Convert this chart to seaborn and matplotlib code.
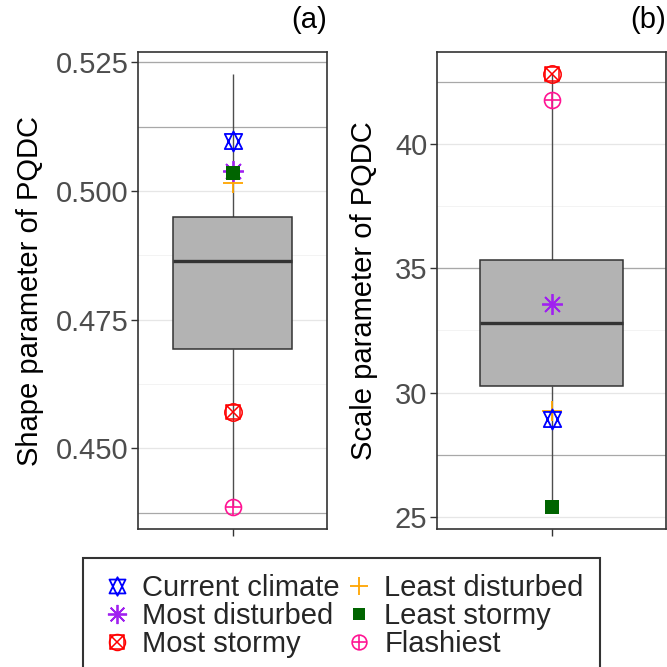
import numpy as np
import matplotlib
matplotlib.use("Agg")
import matplotlib.pyplot as plt
from matplotlib.path import Path
from matplotlib.lines import Line2D
from matplotlib.legend_handler import HandlerTuple
from matplotlib.ticker import MultipleLocator, FixedLocator, FormatStrFormatter
import seaborn as sns

# ---------------- data ----------------
# box statistics: [min, Q1, median, Q3, max]
shape_box = [0.4385, 0.4693, 0.4864, 0.4950, 0.5228]
scale_box = [25.39, 30.25, 32.80, 35.32, 42.82]

scenarios = ["Current climate", "Most disturbed", "Most stormy",
             "Least disturbed", "Least stormy", "Flashiest"]
shape_vals = [0.5098, 0.5038, 0.4570, 0.5016, 0.5034, 0.4385]
scale_vals = [28.95, 33.55, 42.82, 29.28, 25.39, 41.76]

panel_titles = ["(a)", "(b)"]
ylabels = ["Shape parameter of PQDC", "Scale parameter of PQDC"]
yticks_a = [0.450, 0.475, 0.500, 0.525]
yticks_b = [25, 30, 35, 40]

# ---------------- style ----------------
sns.set_style("white")
plt.rcParams["font.family"] = ["Liberation Sans", "DejaVu Sans"]

FS = 21.0
TICK_C = "#4D4D4D"

# R pch 11 (triangle up + triangle down)
r0, yc, xc = 1.5551, 1.1663, 1.3468
hex_verts = [(0, r0), (xc, -yc), (-xc, -yc), (0, r0),
             (0, -r0), (xc, yc), (-xc, yc), (0, -r0)]
hex_codes = [Path.MOVETO, Path.LINETO, Path.LINETO, Path.CLOSEPOLY,
             Path.MOVETO, Path.LINETO, Path.LINETO, Path.CLOSEPOLY]
HEX = Path(hex_verts, hex_codes)

# composite marker definitions per scenario: list of (marker, size_pt, filled, edge width)
marker_parts = {
    "Current climate": [(HEX, 14.5, False, 1.3)],
    "Most disturbed": [((8, 2, 0), 15.0, False, 1.3)],
    "Most stormy": [("o", 12.5, False, 1.1), ("s", 10.6, False, 1.1), ("x", 10.6, False, 1.1)],
    "Least disturbed": [("+", 14.5, False, 1.3)],
    "Least stormy": [("s", 10.0, True, 0)],
    "Flashiest": [("o", 11.5, False, 1.2), ("+", 11.5, False, 1.2)],
}
colors = {
    "Current climate": "#0000FF",
    "Most disturbed": "#A020F0",
    "Most stormy": "#FF0000",
    "Least disturbed": "#FFA500",
    "Least stormy": "#006400",
    "Flashiest": "#FF1493",
}
draw_order = ["Least disturbed", "Most disturbed", "Least stormy",
              "Current climate", "Most stormy", "Flashiest"]

fig = plt.figure(figsize=(6.67, 6.67), dpi=100)
W = 667.0
def frac(l, r, t, b):
    return [l / W, 1 - b / W, (r - l) / W, (b - t) / W]

ax_a = fig.add_axes(frac(138, 327, 52, 529))
ax_b = fig.add_axes(frac(437, 666, 52, 529))

# grid lines that appear darker in the reference rendering
emph_a = [0.525, 0.5125, 0.4375]
emph_b = [42.5, 35.0, 27.5]

panels = [
    (ax_a, shape_box, shape_vals, yticks_a, 0.025, (0.4343, 0.5270), emph_a, -0.497),
    (ax_b, scale_box, scale_vals, yticks_b, 5.0, (24.52, 43.69), emph_b, -0.258),
]

for i, (ax, box, vals, ticks, step, ylim, emph, lab_x) in enumerate(panels):
    sns.boxplot(y=box, ax=ax, width=0.75, whis=(0, 100), color="#B3B3B3",
                linecolor="#333333", linewidth=1.1, fliersize=0,
                saturation=1,
                boxprops=dict(facecolor="#B3B3B3", edgecolor="#333333", linewidth=1.1, zorder=2),
                whiskerprops=dict(color="#4D4D4D", linewidth=1.0, zorder=1.5),
                capprops=dict(linewidth=0),
                medianprops=dict(color="#333333", linewidth=2.4, zorder=2.5))
    ax.set_xlim(-0.6, 0.6)
    ax.set_ylim(*ylim)
    ax.yaxis.set_major_locator(FixedLocator(ticks))
    ax.yaxis.set_minor_locator(MultipleLocator(step / 2))
    ax.set_xticks([0])
    ax.set_xticklabels([""])
    ax.tick_params(axis="both", which="major", direction="out", length=5,
                   width=1.0, color="#333333", labelsize=FS, labelcolor=TICK_C, pad=2,
                   left=True, bottom=True)
    ax.tick_params(axis="y", which="minor", length=0)
    ax.set_axisbelow(True)
    ax.grid(True, axis="y", which="major", color="#E6E6E6", linewidth=0.9)
    ax.grid(True, axis="y", which="minor", color="#F3F3F3", linewidth=0.7)
    ax.grid(False, axis="x")
    for e in emph:
        ax.axhline(e, color="#A8A8A8", linewidth=0.9, zorder=0.8)
    if i == 0:
        ax.yaxis.set_major_formatter(FormatStrFormatter("%.3f"))
    for s in ax.spines.values():
        s.set_color("#333333")
        s.set_linewidth(1.2)
        s.set_zorder(5)
    ax.set_ylabel(ylabels[i], fontsize=FS, color="black")
    ax.yaxis.set_label_coords(lab_x, 0.5)
    ax.set_xlabel("")
    ax.set_title(panel_titles[i], loc="right", fontsize=FS, color="black", pad=17)

    for name in draw_order:
        v = vals[scenarios.index(name)]
        for mk, ms, filled, mew in marker_parts[name]:
            ax.plot([0], [v], linestyle="none", marker=mk, markersize=ms,
                    markeredgecolor=colors[name],
                    markerfacecolor=colors[name] if filled else "none",
                    markeredgewidth=mew, zorder=4, clip_on=False)

# legend
handles = []
for name in scenarios:
    parts = []
    for mk, ms, filled, mew in marker_parts[name]:
        parts.append(Line2D([], [], linestyle="none", marker=mk, markersize=ms * 0.92,
                            markeredgecolor=colors[name],
                            markerfacecolor=colors[name] if filled else "none",
                            markeredgewidth=mew))
    handles.append(tuple(parts))

leg = fig.legend(handles, scenarios, loc="upper left",
                 bbox_to_anchor=(83 / W, 1 - 558 / W), bbox_transform=fig.transFigure,
                 ncol=2, frameon=True, fancybox=False, edgecolor="black",
                 fontsize=FS, borderpad=0.55, handlelength=1.2, handletextpad=0.28,
                 columnspacing=0.05, labelspacing=0.0, borderaxespad=0,
                 handler_map={tuple: HandlerTuple(ndivide=1)})
leg.get_frame().set_linewidth(1.5)

fig.savefig("out.png", dpi=100)
